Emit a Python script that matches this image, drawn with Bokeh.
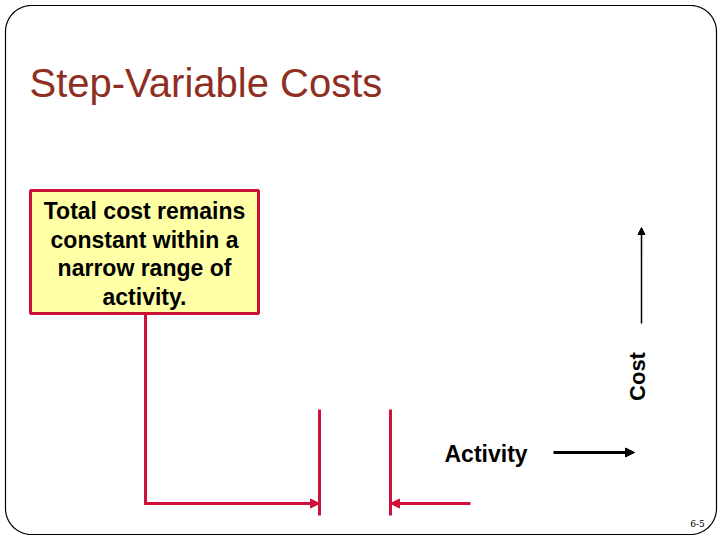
import numpy as np
from bokeh.plotting import figure
from bokeh.models import Range1d, Arrow, NormalHead
from bokeh.core.properties import value
from bokeh.embed import file_html
from bokeh.resources import INLINE

# ---- content ----
title_text = "Step-Variable Costs"
box_lines = ["Total cost remains", "constant within a", "narrow range of", "activity."]
x_label = "Activity"
y_label = "Cost"
page_label = "6-5"

# activity steps (slide units): step boundaries and the cost level
step_left = [145, 390]
step_right = [319, 470]
step_level = 503
step_top = 409
step_bottom = 515
callout_top = 313

W, H = 720, 540
p = figure(width=W, height=H, output_backend="svg", toolbar_location=None,
           x_range=Range1d(0, 720), y_range=Range1d(540, 0), min_border=0)
p.axis.visible = False
p.grid.visible = False
p.outline_line_color = None
p.background_fill_color = "white"
p.border_fill_color = "white"

# slide frame (rounded rectangle)
x0, x1, y0, y1, r = 5, 716, 5, 534, 26
pts = []
for cx, cy, a0 in [(x1 - r, y0 + r, -90), (x1 - r, y1 - r, 0), (x0 + r, y1 - r, 90), (x0 + r, y0 + r, 180)]:
    t = np.radians(np.linspace(a0, a0 + 90, 14))
    pts += list(zip(cx + r * np.cos(t), cy + r * np.sin(t)))
pts.append(pts[0])
p.line([q[0] for q in pts], [q[1] for q in pts], line_color="black", line_width=1.2)

# title
p.text(x=[29], y=[82], text=[title_text], text_font=value("Liberation Sans"),
       text_font_size="40px", text_color="#8E2F22", text_baseline="middle", text_align="left")

# callout box
p.quad(left=[30], right=[258], top=[190], bottom=[313], fill_color="#FFFFA6",
       line_color="#CC1136", line_width=3)
p.text(x=[144] * 4, y=[210, 239, 267, 296], text=box_lines,
       text_font=value("Liberation Sans"), text_font_style="bold", text_font_size="23px",
       text_color="black", text_align="center", text_baseline="middle")

red = "#D0103A"
# leader from box down and along
p.line([step_left[0], step_left[0]], [callout_top, step_level], line_color=red, line_width=3)
p.add_layout(Arrow(end=NormalHead(size=9, fill_color=red, line_color=red),
                   x_start=step_left[0] - 1.5, y_start=step_level,
                   x_end=step_right[0], y_end=step_level, line_color=red, line_width=3))
p.add_layout(Arrow(end=NormalHead(size=9, fill_color=red, line_color=red),
                   x_start=step_right[1], y_start=step_level,
                   x_end=step_left[1], y_end=step_level, line_color=red, line_width=3))
p.segment(x0=[step_right[0], step_left[1]], y0=[step_top] * 2,
          x1=[step_right[0], step_left[1]], y1=[step_bottom] * 2, line_color=red, line_width=3)

# axis labels and arrows
p.text(x=[444], y=[453], text=[x_label], text_font=value("Liberation Sans"),
       text_font_style="bold", text_font_size="23px", text_color="black",
       text_align="left", text_baseline="middle")
p.add_layout(Arrow(end=NormalHead(size=9, fill_color="black", line_color="black"),
                   x_start=553, y_start=452, x_end=634, y_end=452,
                   line_color="black", line_width=3))
p.text(x=[637], y=[376], text=[y_label], angle=np.pi / 2, text_font=value("Liberation Sans"),
       text_font_style="bold", text_font_size="22px", text_color="black",
       text_align="center", text_baseline="middle")
p.add_layout(Arrow(end=NormalHead(size=7, fill_color="black", line_color="black"),
                   x_start=641, y_start=323, x_end=641, y_end=227,
                   line_color="black", line_width=1.5))

# page number
p.text(x=[697], y=[523], text=[page_label], text_font=value("DejaVu Serif"),
       text_font_size="9px", text_color="black", text_align="center", text_baseline="middle")

open("out.html", "w").write(file_html(p, INLINE))
